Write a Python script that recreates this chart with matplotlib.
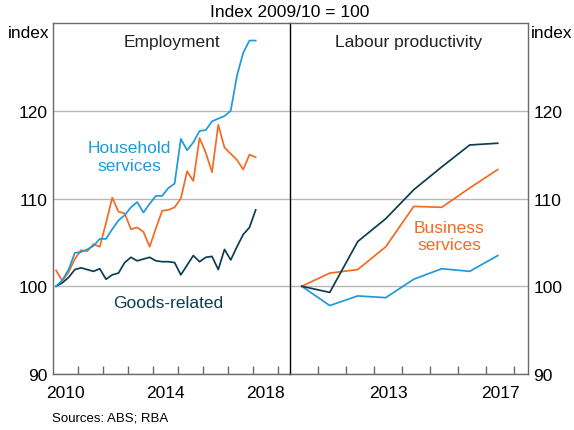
import numpy as np
import matplotlib

matplotlib.use("Agg")

import matplotlib.pyplot as plt

plt.rcParams["font.family"] = ["Liberation Sans", "DejaVu Sans"]

BLUE = "#1f9ad8"
ORANGE = "#f26b21"
DARK = "#0d3d52"
GRID = "#b8b8b8"
FRAME = "#6a6a6a"

# Employment, quarterly index (first quarter of 2010 onwards)
emp_start = 2010.125
goods_emp = [100.0, 100.4, 101.0, 101.9, 102.1, 101.9, 101.7, 102.0, 100.8, 101.3,
             101.5, 102.7, 103.3, 102.9, 103.1, 103.3, 102.9, 102.8, 102.8, 102.7,
             101.3, 102.4, 103.5, 102.8, 103.3, 103.4, 101.9, 104.2, 103.0, 104.5,
             105.9, 106.7, 108.7]
household_emp = [100.0, 100.7, 101.9, 103.8, 103.9, 104.2, 104.6, 105.4, 105.4, 106.5,
                 107.5, 108.1, 109.0, 109.6, 108.4, 109.4, 110.3, 110.3, 111.2, 111.7,
                 116.8, 115.5, 116.4, 117.7, 117.8, 118.8, 119.1, 119.4, 120.0, 124.0,
                 126.6, 128.0, 128.0]
business_emp = [101.8, 100.6, 101.6, 103.1, 104.1, 104.0, 104.8, 104.5, 107.2, 110.1,
                108.5, 108.3, 106.5, 106.7, 106.2, 104.5, 106.6, 108.6, 108.7, 109.0,
                110.0, 113.1, 112.0, 116.9, 115.2, 113.0, 118.4, 115.8, 115.1, 114.4,
                113.3, 115.0, 114.7]

# Labour productivity, financial years
prod_years = [2010, 2011, 2012, 2013, 2014, 2015, 2016, 2017]
goods_prod = [100.0, 99.3, 105.1, 107.7, 111.0, 113.6, 116.1, 116.3]
business_prod = [100.0, 101.5, 101.9, 104.5, 109.1, 109.0, 111.2, 113.3]
household_prod = [100.0, 97.8, 98.9, 98.7, 100.8, 102.0, 101.7, 103.5]

emp_x = emp_start + 0.25 * np.arange(len(goods_emp))
prod_x = np.array(prod_years) + 0.42

fig = plt.figure(figsize=(5.74, 4.31), dpi=100)
ax1 = fig.add_axes([0.0923, 0.1299, 0.4129, 0.8144])
ax2 = fig.add_axes([0.5052, 0.1299, 0.4146, 0.8144])
ax2.patch.set_visible(False)

lw = 1.25
ax1.plot(emp_x, goods_emp, color=DARK, lw=lw, zorder=3)
ax1.plot(emp_x, business_emp, color=ORANGE, lw=lw, zorder=3)
ax1.plot(emp_x, household_emp, color=BLUE, lw=lw, zorder=4)

ax2.plot(prod_x, household_prod, color=BLUE, lw=lw, zorder=3)
ax2.plot(prod_x, business_prod, color=ORANGE, lw=lw, zorder=3)
ax2.plot(prod_x, goods_prod, color=DARK, lw=lw, zorder=4)

ax1.set_xlim(2010, 2019.5)
ax2.set_xlim(2010, 2018.5)

for ax in (ax1, ax2):
    ax.set_ylim(90, 130)
    ax.set_yticks([90, 100, 110, 120])
    ax.grid(True, axis="y", color=GRID, lw=1.0, zorder=1)
    ax.tick_params(axis="y", length=0, labelsize=12.5, pad=4)
    ax.tick_params(axis="x", which="major", length=0, labelsize=12.5, pad=8)
    ax.tick_params(axis="x", which="minor", direction="in", length=6,
                   width=1.0, color=FRAME)
    for s in ax.spines.values():
        s.set_color(FRAME)
        s.set_linewidth(1.0)

ax1.set_xticks([2010.5, 2014.5, 2018.5])
ax1.set_xticklabels(["2010", "2014", "2018"])
ax1.set_xticks(np.arange(2011, 2020), minor=True)
ax1.spines["right"].set_visible(False)

ax2.set_xticks([2013.5, 2017.5])
ax2.set_xticklabels(["2013", "2017"])
ax2.set_xticks(np.arange(2011, 2019), minor=True)
ax2.yaxis.tick_right()
ax2.spines["left"].set_color("black")

ax1.text(0.5, 0.946, "Employment", transform=ax1.transAxes, ha="center",
         va="center", fontsize=12.5, color="#222222")
ax2.text(0.5, 0.946, "Labour productivity", transform=ax2.transAxes,
         ha="center", va="center", fontsize=12.5, color="#222222")

ax1.text(2013.06, 114.8, "Household\nservices", color=BLUE, ha="center",
         va="center", fontsize=12.5, linespacing=1.2)
ax1.text(2014.6, 98.2, "Goods-related", color=DARK, ha="center",
         va="center", fontsize=12.5)
ax2.text(2015.69, 105.7, "Business\nservices", color=ORANGE, ha="center",
         va="center", fontsize=12.5, linespacing=1.2)

fig.text(8 / 574, 1 - 34 / 431, "index", ha="left", va="center", fontsize=12.5)
fig.text(531 / 574, 1 - 34 / 431, "index", ha="left", va="center", fontsize=12.5)
fig.text(290 / 574, 1 - 12.7 / 431, "Index 2009/10 = 100", ha="center",
         va="center", fontsize=12.5)
fig.text(52 / 574, 1 - 419 / 431, "Sources: ABS; RBA", ha="left",
         va="center", fontsize=9.5)

fig.savefig("out.png", dpi=100)
